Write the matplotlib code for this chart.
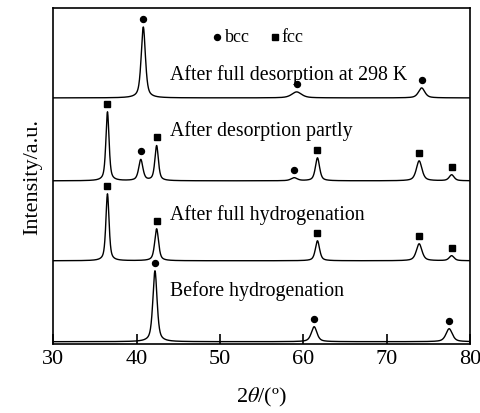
import numpy as np
import matplotlib.pyplot as plt

plt.rcParams['font.family'] = ['Liberation Serif', 'DejaVu Serif']
plt.rcParams['mathtext.fontset'] = 'stix'

# peak positions (2theta), heights and widths
full_desorb_pos = [40.8, 59.2, 74.2]
full_desorb_h = [71, 6, 10]
full_desorb_w = [0.6, 1.4, 0.9]
full_desorb_phase = ['bcc', 'bcc', 'bcc']

part_desorb_pos = [36.5, 40.5, 42.4, 58.9, 61.7, 73.9, 77.8]
part_desorb_h = [69, 21, 35, 3, 23, 20, 6]
part_desorb_w = [0.45, 0.6, 0.5, 0.9, 0.6, 0.8, 0.7]
part_desorb_phase = ['fcc', 'bcc', 'fcc', 'bcc', 'fcc', 'fcc', 'fcc']

full_hyd_pos = [36.5, 42.4, 61.7, 73.9, 77.8]
full_hyd_h = [67, 32, 20, 17, 5]
full_hyd_w = [0.45, 0.55, 0.6, 0.8, 0.7]
full_hyd_phase = ['fcc', 'fcc', 'fcc', 'fcc', 'fcc']

before_pos = [42.2, 61.3, 77.5]
before_h = [71, 15, 13]
before_w = [0.6, 0.8, 0.9]
before_phase = ['bcc', 'bcc', 'bcc']

baselines = [246, 163, 83, 2]
labels = ['After full desorption at 298 K', 'After desorption partly',
          'After full hydrogenation', 'Before hydrogenation']
label_y = [270, 214, 130, 54]


def profile(x, pos, h, w):
    y = np.zeros_like(x)
    for c, a, fw in zip(pos, h, w):
        g = np.exp(-4 * np.log(2) * ((x - c) / fw) ** 2)
        l = 1 / (1 + 4 * ((x - c) / fw) ** 2)
        y += a * (0.4 * g + 0.6 * l)
    return y


x = np.linspace(30, 80, 2501)
traces = [
    (full_desorb_pos, full_desorb_h, full_desorb_w, full_desorb_phase),
    (part_desorb_pos, part_desorb_h, part_desorb_w, part_desorb_phase),
    (full_hyd_pos, full_hyd_h, full_hyd_w, full_hyd_phase),
    (before_pos, before_h, before_w, before_phase),
]

fig = plt.figure(figsize=(4.81, 4.14), dpi=100)
ax = fig.add_axes([0.1108, 0.1674, 0.9771 - 0.1108, 0.9783 - 0.1674])

for (pos, h, w, ph), base, lab, ly in zip(traces, baselines, labels, label_y):
    y = base + profile(x, pos, h, w)
    ax.plot(x, y, color='black', lw=1.0)
    for c, a, p in zip(pos, h, ph):
        top = base + profile(np.array([c]), pos, h, w)[0]
        m = 'o' if p == 'bcc' else 's'
        ax.plot(c, top + 8, marker=m, color='black', ms=4.3, ls='none')
    ax.text(44.0, ly, lab, fontsize=14.3, va='center', ha='left')

# legend
ax.plot(49.7, 307, marker='o', color='black', ms=4.3)
ax.text(50.6, 307, 'bcc', fontsize=13, va='center')
ax.plot(56.6, 307, marker='s', color='black', ms=4.3)
ax.text(57.4, 307, 'fcc', fontsize=13, va='center')

ax.set_xlim(30, 80)
ax.set_ylim(0, 336)
ax.set_xticks([30, 40, 50, 60, 70, 80])
ax.set_yticks([])
ax.tick_params(axis='x', direction='in', length=7, width=1.2, labelsize=16, pad=4)
for s in ax.spines.values():
    s.set_linewidth(1.2)
ax.set_xlabel('2$\\theta$/(º)', fontsize=16, labelpad=12)
ax.set_ylabel('Intensity/a.u.', fontsize=16, labelpad=8)

fig.savefig('out.png', dpi=100)
